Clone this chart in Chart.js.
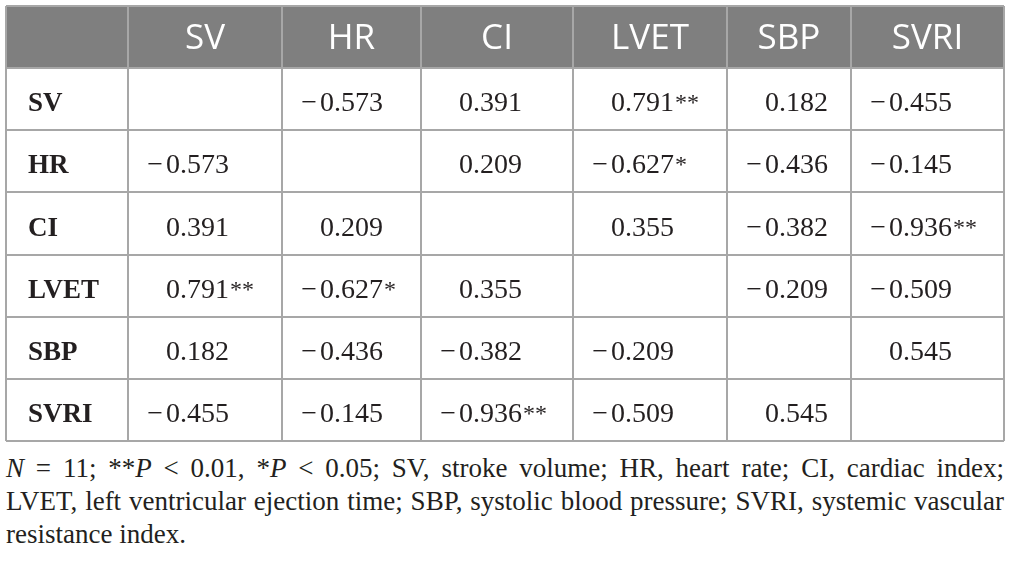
<!DOCTYPE html>
<html>
<head>
<meta charset="utf-8">
<script src="https://cdn.jsdelivr.net/npm/chart.js@4.4.4/dist/chart.umd.min.js"></script>
<style>
  html, body { margin: 0; padding: 0; background: #fff; }
  #wrap { position: relative; width: 1010px; height: 564px; overflow: hidden; }
  #table { position: absolute; left: 0; top: 0; }
  #note {
    position: absolute; left: 6px; top: 452px; width: 998px;
    font-family: "Liberation Serif", "Times New Roman", serif;
    font-size: 27px; line-height: 33px; color: #231f20;
  }
  #note .full { text-align: justify; text-align-last: justify; white-space: nowrap; }
  #note i { font-style: italic; }
</style>
</head>
<body>
<div id="wrap">
  <canvas id="table" width="1010" height="450"></canvas>
  <div id="note">
    <div class="full"><i>N</i> = 11; **<i>P</i> &lt; 0.01, *<i>P</i> &lt; 0.05; SV, stroke volume; HR, heart rate; CI, cardiac index;</div>
    <div class="full">LVET, left ventricular ejection time; SBP, systolic blood pressure; SVRI, systemic vascular</div>
    <div>resistance index.</div>
  </div>
</div>
<script>
// Variables (row and column headers)
const variables = ['SV', 'HR', 'CI', 'LVET', 'SBP', 'SVRI'];

// Correlation coefficients, one array per row (null = diagonal)
const corrSV   = [null, -0.573, 0.391, 0.791, 0.182, -0.455];
const corrHR   = [-0.573, null, 0.209, -0.627, -0.436, -0.145];
const corrCI   = [0.391, 0.209, null, 0.355, -0.382, -0.936];
const corrLVET = [0.791, -0.627, 0.355, null, -0.209, -0.509];
const corrSBP  = [0.182, -0.436, -0.382, -0.209, null, 0.545];
const corrSVRI = [-0.455, -0.145, -0.936, -0.509, 0.545, null];

// Significance marks per row
const sigSV   = ['', '', '', '**', '', ''];
const sigHR   = ['', '', '', '*', '', ''];
const sigCI   = ['', '', '', '', '', '**'];
const sigLVET = ['**', '*', '', '', '', ''];
const sigSBP  = ['', '', '', '', '', ''];
const sigSVRI = ['', '', '**', '', '', ''];

const corrRows = [corrSV, corrHR, corrCI, corrLVET, corrSBP, corrSVRI];
const sigRows = [sigSV, sigHR, sigCI, sigLVET, sigSBP, sigSVRI];

// Layout: relative column widths (label column first)
const colWidths = [122, 154, 139, 152, 154, 124, 153];
const colEdges = colWidths.reduce((acc, w) => acc.concat(acc[acc.length - 1] + w), [0]);
const rowEdges = Array.from({ length: variables.length + 2 }, (_, i) => i);

const GRID = '#a7a7a7';
const HEAD = '#7f7f7f';
const INK = '#231f20';
const SERIF = '"Liberation Serif", "Times New Roman", serif';

// One point per cell, placed at column centre / row centre
const cells = [];
corrRows.forEach((row, r) => {
    row.forEach((v, c) => {
        if (v === null) return;
        cells.push({
            x: (colEdges[c + 1] + colEdges[c + 2]) / 2,
            y: r + 1.5,
            col: c + 1,
            value: v,
            sig: sigRows[r][c]
        });
    });
});

const fmt = v => Math.abs(v).toFixed(3);

const tablePlugin = {
    id: 'tablePlugin',
    beforeDraw(chart) {
        const { ctx, scales: { x, y } } = chart;
        // header band
        ctx.save();
        ctx.fillStyle = HEAD;
        ctx.fillRect(x.getPixelForValue(0), y.getPixelForValue(0),
            x.getPixelForValue(colEdges[colEdges.length - 1]) - x.getPixelForValue(0),
            y.getPixelForValue(1) - y.getPixelForValue(0));
        ctx.restore();
    },
    afterDatasetsDraw(chart) {
        const { ctx, scales: { x, y } } = chart;
        ctx.save();
        ctx.textBaseline = 'alphabetic';

        // column headers
        ctx.fillStyle = '#ffffff';
        ctx.font = '35px "Open Sans"';
        ctx.textAlign = 'center';
        const headY = y.getPixelForValue(0.5) + 12;
        variables.forEach((name, i) => {
            const cx = x.getPixelForValue((colEdges[i + 1] + colEdges[i + 2]) / 2);
            ctx.fillText(name, cx, headY);
        });

        // row labels
        ctx.fillStyle = INK;
        ctx.font = 'bold 27px ' + SERIF;
        ctx.textAlign = 'left';
        variables.forEach((name, r) => {
            ctx.fillText(name, x.getPixelForValue(0) + 22, y.getPixelForValue(r + 1.5) + 12);
        });

        // values, aligned on the leading zero
        const meta = chart.getDatasetMeta(0);
        meta.data.forEach((pt, i) => {
            const cell = cells[i];
            const anchor = x.getPixelForValue(colEdges[cell.col]) + 38;
            const base = pt.y + 12;
            const txt = fmt(cell.value);
            ctx.font = '28px ' + SERIF;
            ctx.textAlign = 'left';
            ctx.fillText(txt, anchor, base);
            const w = ctx.measureText(txt).width;
            if (cell.value < 0) {
                ctx.textAlign = 'right';
                ctx.fillText('\u2212', anchor - 3, base);
            }
            if (cell.sig) {
                ctx.textAlign = 'left';
                ctx.font = '24px ' + SERIF;
                ctx.fillText(cell.sig, anchor + w + 1, base - 1);
            }
        });
        ctx.restore();
    }
};

new Chart(document.getElementById('table'), {
    type: 'scatter',
    data: {
        datasets: [{
            data: cells,
            pointRadius: 0,
            pointHoverRadius: 0
        }]
    },
    options: {
        responsive: false,
        animation: false,
        events: [],
        layout: { padding: { left: 6, right: 6, top: 6, bottom: 9 } },
        plugins: { legend: { display: false }, tooltip: { enabled: false } },
        scales: {
            x: {
                type: 'linear',
                min: 0,
                max: colEdges[colEdges.length - 1],
                afterBuildTicks: scale => { scale.ticks = colEdges.map(v => ({ value: v })); },
                ticks: { display: false },
                grid: { color: GRID, lineWidth: 2, drawTicks: false },
                border: { display: false }
            },
            y: {
                type: 'linear',
                reverse: true,
                min: 0,
                max: rowEdges[rowEdges.length - 1],
                afterBuildTicks: scale => { scale.ticks = rowEdges.map(v => ({ value: v })); },
                ticks: { display: false },
                grid: { color: GRID, lineWidth: 2, drawTicks: false },
                border: { display: false }
            }
        }
    },
    plugins: [tablePlugin]
});
</script>
</body>
</html>
